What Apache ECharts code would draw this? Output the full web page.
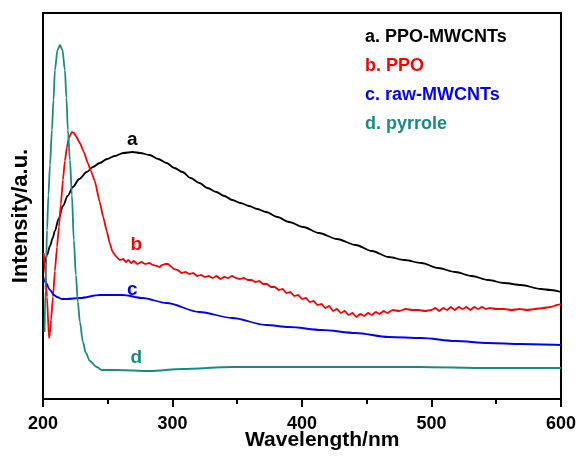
<!DOCTYPE html>
<html>
<head>
<meta charset="utf-8">
<script src="https://cdn.jsdelivr.net/npm/echarts@6/dist/echarts.min.js"></script>
<style>
  html, body { margin: 0; padding: 0; background: #ffffff; }
  #chart { width: 579px; height: 456px; }
</style>
</head>
<body>
<div id="chart"></div>
<script>
// UV-vis spectra: wavelength (nm) vs. intensity (a.u.)
const wavelengthTicks = [200, 300, 400, 500, 600];
const seriesNames = ['a. PPO-MWCNTs', 'b. PPO', 'c. raw-MWCNTs', 'd. pyrrole'];
const curveTags = ['a', 'b', 'c', 'd'];
const seriesColors = ['#000000', '#ff0000', '#0000ff', '#1a8a82'];

// [wavelength, intensity]
const ppoMwcnts = [
  [200.6, 1.33], [201.5, 1.37], [203.1, 1.44], [205.4, 1.53], [207.5, 1.61],
  [209.2, 1.68], [212.0, 1.80], [215.4, 1.93], [219.0, 2.03], [223.1, 2.12],
  [228.0, 2.20], [233.8, 2.27], [238.5, 2.32], [243.8, 2.36], [249.5, 2.40],
  [255.4, 2.43], [262.0, 2.46], [269.2, 2.47], [275.0, 2.46], [282.3, 2.44],
  [289.0, 2.40], [295.4, 2.36], [301.5, 2.31], [307.7, 2.27], [314.0, 2.21],
  [320.8, 2.16], [327.0, 2.11], [333.8, 2.07], [340.0, 2.03], [346.2, 1.99],
  [352.5, 1.96], [359.2, 1.93], [365.5, 1.90], [372.3, 1.87], [381.0, 1.82],
  [390.0, 1.77], [401.0, 1.72], [413.1, 1.66], [427.0, 1.60], [441.5, 1.54],
  [454.0, 1.48], [466.9, 1.42], [479.0, 1.39], [492.3, 1.36], [505.0, 1.31],
  [518.5, 1.27], [531.0, 1.23], [543.8, 1.19], [556.0, 1.16], [569.2, 1.14],
  [584.6, 1.10], [592.0, 1.09], [600.0, 1.07]
];

const ppo = [
  [200.6, 1.46], [201.9, 1.24], [203.1, 1.02], [204.6, 0.61], [205.4, 0.66],
  [206.2, 0.79], [207.7, 1.02], [209.2, 1.28], [210.8, 1.52], [212.3, 1.72],
  [213.8, 1.95], [215.4, 2.19], [216.9, 2.38], [218.5, 2.52], [220.0, 2.61],
  [222.3, 2.67], [224.0, 2.66], [225.4, 2.63], [228.5, 2.56], [231.5, 2.47],
  [234.6, 2.36], [237.0, 2.28], [240.0, 2.18], [243.8, 1.97], [246.5, 1.82],
  [249.2, 1.68], [251.5, 1.56], [253.8, 1.47], [256.9, 1.42], [259.2, 1.39],
  [262.0, 1.40], [264.0, 1.37], [266.0, 1.39], [268.0, 1.36], [270.0, 1.38],
  [273.0, 1.35], [276.0, 1.37], [279.0, 1.35], [282.0, 1.36], [285.0, 1.34],
  [288.0, 1.33], [290.0, 1.32], [292.0, 1.34], [294.5, 1.35], [296.5, 1.35],
  [298.5, 1.33], [301.0, 1.30], [304.0, 1.29], [307.0, 1.26], [310.0, 1.27],
  [313.0, 1.25], [316.0, 1.26], [319.0, 1.23], [322.0, 1.24], [325.0, 1.22],
  [328.0, 1.23], [331.0, 1.21], [334.0, 1.23], [337.0, 1.20], [340.0, 1.22],
  [343.0, 1.21], [346.0, 1.23], [349.0, 1.21], [352.0, 1.20], [355.0, 1.21],
  [358.0, 1.19], [361.0, 1.19], [364.0, 1.17], [367.0, 1.18], [370.0, 1.15],
  [373.0, 1.15], [376.0, 1.12], [379.0, 1.12], [382.0, 1.09], [385.0, 1.10],
  [388.0, 1.06], [391.0, 1.07], [394.0, 1.03], [397.0, 1.04], [400.0, 1.00],
  [403.0, 1.01], [406.0, 0.97], [409.0, 0.98], [412.0, 0.94], [415.0, 0.95],
  [418.0, 0.91], [421.0, 0.93], [424.0, 0.88], [427.0, 0.90], [430.0, 0.86],
  [433.0, 0.88], [436.0, 0.84], [439.0, 0.86], [442.0, 0.82], [445.0, 0.85],
  [448.0, 0.83], [451.0, 0.86], [454.0, 0.84], [457.0, 0.87], [460.0, 0.85],
  [463.0, 0.88], [466.0, 0.86], [470.0, 0.89], [475.0, 0.88], [480.0, 0.90],
  [485.0, 0.89], [490.0, 0.89], [495.0, 0.88], [500.0, 0.89], [503.0, 0.91],
  [506.0, 0.88], [509.0, 0.91], [512.0, 0.89], [515.0, 0.92], [518.0, 0.89],
  [521.0, 0.92], [524.0, 0.90], [527.0, 0.92], [530.0, 0.89], [533.0, 0.92],
  [536.0, 0.90], [539.0, 0.92], [542.0, 0.90], [545.0, 0.91], [550.0, 0.90],
  [556.0, 0.90], [562.0, 0.89], [568.0, 0.90], [574.0, 0.89], [580.0, 0.90],
  [586.0, 0.91], [592.0, 0.92], [597.0, 0.94], [600.0, 0.95]
];

const rawMwcnts = [
  [200.4, 1.21], [202.3, 1.16], [205.4, 1.09], [208.5, 1.04], [210.8, 1.02],
  [214.6, 1.00], [218.5, 1.00], [228.5, 1.01], [243.8, 1.04], [261.5, 1.04],
  [276.9, 1.01], [295.4, 0.96], [320.8, 0.87], [346.2, 0.81], [372.3, 0.74],
  [390.0, 0.72], [415.4, 0.69], [441.5, 0.66], [466.9, 0.62], [492.3, 0.61],
  [518.5, 0.58], [543.8, 0.56], [569.2, 0.55], [600.0, 0.54]
];

const pyrrole = [
  [201.2, 0.67], [201.9, 1.09], [202.5, 1.39], [203.1, 1.69], [204.2, 2.04],
  [205.4, 2.34], [206.9, 2.69], [208.1, 2.99], [209.2, 3.29], [211.2, 3.49],
  [213.1, 3.54], [215.0, 3.49], [216.9, 3.29], [218.1, 3.01], [219.2, 2.69],
  [220.8, 2.39], [222.3, 2.04], [223.8, 1.59], [225.4, 1.24], [226.9, 0.97],
  [228.5, 0.77], [230.8, 0.57], [233.1, 0.46], [236.2, 0.38], [241.5, 0.32],
  [245.4, 0.29], [256.9, 0.29], [282.3, 0.28], [307.7, 0.30], [346.2, 0.32],
  [390.0, 0.32], [436.2, 0.32], [490.0, 0.32], [543.8, 0.31], [600.0, 0.31]
];

// where the curve letters sit, in data coordinates
const tagPositions = [[269, 2.59], [272, 1.54], [269, 1.09], [272, 0.41]];

const seriesData = [ppoMwcnts, ppo, rawMwcnts, pyrrole];
const FONT = '"Liberation Sans", Arial, sans-serif';

const chart = echarts.init(document.getElementById('chart'), null, { renderer: 'canvas' });

chart.setOption({
  animation: false,
  backgroundColor: '#ffffff',
  grid: {
    left: 43, right: 16, top: 13, bottom: 57,
    show: true, borderColor: '#000', borderWidth: 2, backgroundColor: 'transparent'
  },
  legend: {
    orient: 'vertical',
    left: 355, top: 23,
    icon: 'none',
    itemWidth: 0, itemHeight: 14, itemGap: 11,
    selectedMode: false,
    textStyle: { fontFamily: FONT, fontWeight: 'bold', fontSize: 18 },
    data: seriesNames.map((n, i) => ({ name: n, textStyle: { color: seriesColors[i] } }))
  },
  xAxis: {
    type: 'value',
    min: wavelengthTicks[0],
    max: wavelengthTicks[wavelengthTicks.length - 1],
    interval: 100,
    axisLine: { show: true, lineStyle: { color: '#000', width: 2 } },
    axisTick: { show: true, inside: false, length: 8, lineStyle: { color: '#000', width: 2 } },
    minorTick: { show: true, splitNumber: 2, length: 5, lineStyle: { color: '#000', width: 2 } },
    splitLine: { show: false },
    axisLabel: { color: '#000', fontFamily: FONT, fontWeight: 'bold', fontSize: 18, margin: 16 }
  },
  yAxis: {
    type: 'value',
    min: 0, max: 3.86,
    axisLine: { show: true, lineStyle: { color: '#000', width: 2 } },
    axisTick: { show: false },
    axisLabel: { show: false },
    splitLine: { show: false }
  },
  series: seriesData.map((d, i) => ({
    name: seriesNames[i],
    type: 'line',
    data: d,
    showSymbol: false,
    smooth: i === 1 ? 0.15 : 0.3,
    smoothMonotone: 'x',
    lineStyle: { color: seriesColors[i], width: 1.8 },
    itemStyle: { color: seriesColors[i] },
    z: 2 + i
  }))
});

// axis titles and curve letters
const graphics = [
  {
    type: 'text', left: 245, top: 430,
    style: { text: 'Wavelength/nm', fill: '#000', font: 'bold 21px ' + FONT }
  },
  {
    type: 'text', x: 21, y: 216, rotation: Math.PI / 2,
    style: { text: 'Intensity/a.u.', fill: '#000', font: 'bold 22px ' + FONT, align: 'center', verticalAlign: 'middle' }
  }
];
tagPositions.forEach((p, i) => {
  const px = chart.convertToPixel({ gridIndex: 0 }, p);
  graphics.push({
    type: 'text', x: px[0], y: px[1],
    style: { text: curveTags[i], fill: seriesColors[i], font: 'bold 19px ' + FONT, align: 'center', verticalAlign: 'middle' }
  });
});
chart.setOption({ graphic: graphics });
</script>
</body>
</html>
